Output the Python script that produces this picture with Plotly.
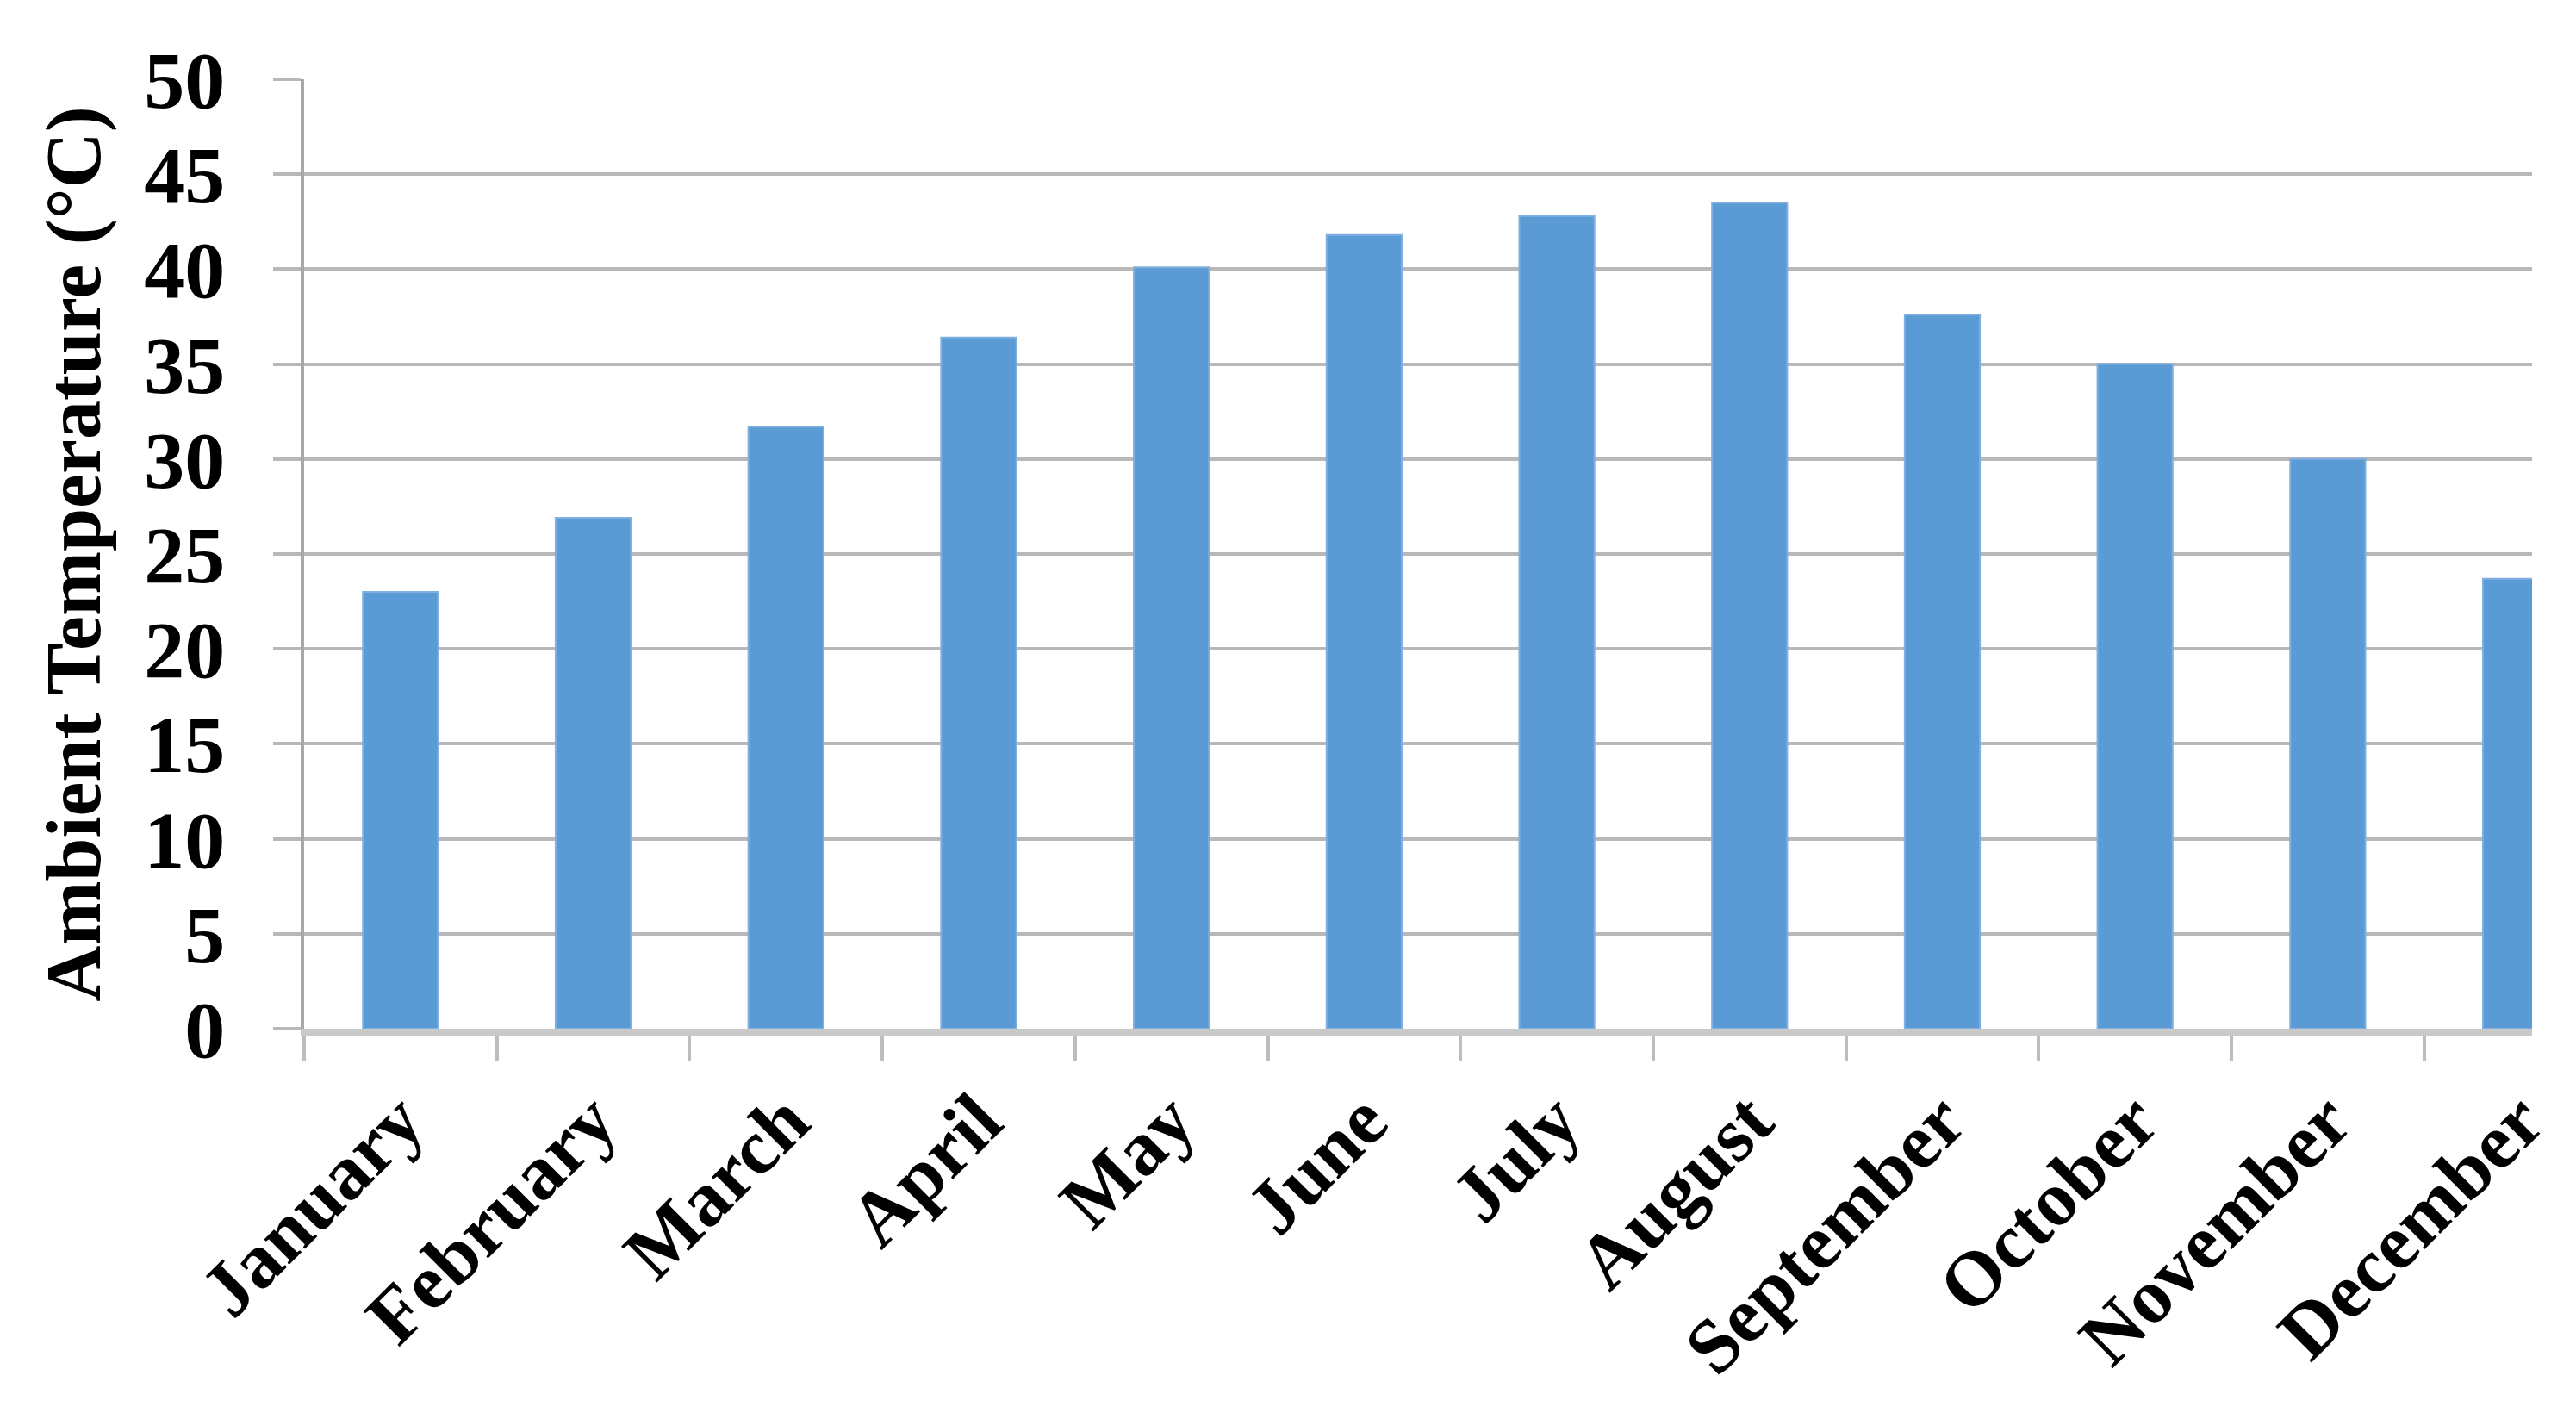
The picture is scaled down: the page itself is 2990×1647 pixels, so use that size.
import plotly.graph_objects as go

months = ["January", "February", "March", "April", "May", "June", "July",
          "August", "September", "October", "November", "December"]
temps = [23.0, 26.9, 31.7, 36.4, 40.1, 41.8, 42.8, 43.5, 37.6, 35.0, 30.0, 23.7]
y_ticks = [0, 5, 10, 15, 20, 25, 30, 35, 40, 45, 50]

FONT = "Liberation Serif, Times New Roman, serif"

fig = go.Figure()
fig.add_trace(go.Bar(
    x=months, y=temps,
    marker=dict(color="#5B9BD5", line=dict(color="#7fb0e0", width=2)),
    width=0.39,
))

fig.update_layout(
    width=2990, height=1647,
    margin=dict(l=345, r=59, t=84, b=461, autoexpand=False),
    paper_bgcolor="white", plot_bgcolor="white",
    showlegend=False,
    font=dict(family=FONT, color="black", weight="bold"),
)

fig.update_xaxes(
    type="category",
    range=[-0.5, 11.06],
    tickson="boundaries",
    ticks="outside", ticklen=30, tickwidth=4, tickcolor="#bdbdbd",
    tickangle=-45,
    tickfont=dict(family=FONT, size=90, color="black", weight="bold"),
    ticklabelstandoff=10,
    showline=True, linecolor="#c9c9c9", linewidth=8,
    showgrid=False, zeroline=False,
    automargin=False,
)

fig.update_yaxes(
    range=[0, 50],
    tickmode="array", tickvals=y_ticks, ticktext=[str(v) for v in y_ticks],
    ticks="outside", ticklen=32, tickwidth=4, tickcolor="#b8b8b8",
    tickfont=dict(family=FONT, size=94, color="black", weight="bold"),
    ticklabelstandoff=37,
    showline=True, linecolor="#a8a8a8", linewidth=4,
    showgrid=True, gridcolor="#b8b8b8", gridwidth=4,
    zeroline=False,
    title=dict(text="Ambient Temperature (°C)", standoff=22,
               font=dict(family=FONT, size=90, color="black", weight="bold")),
    automargin=False,
)

fig.write_html("out.html")
